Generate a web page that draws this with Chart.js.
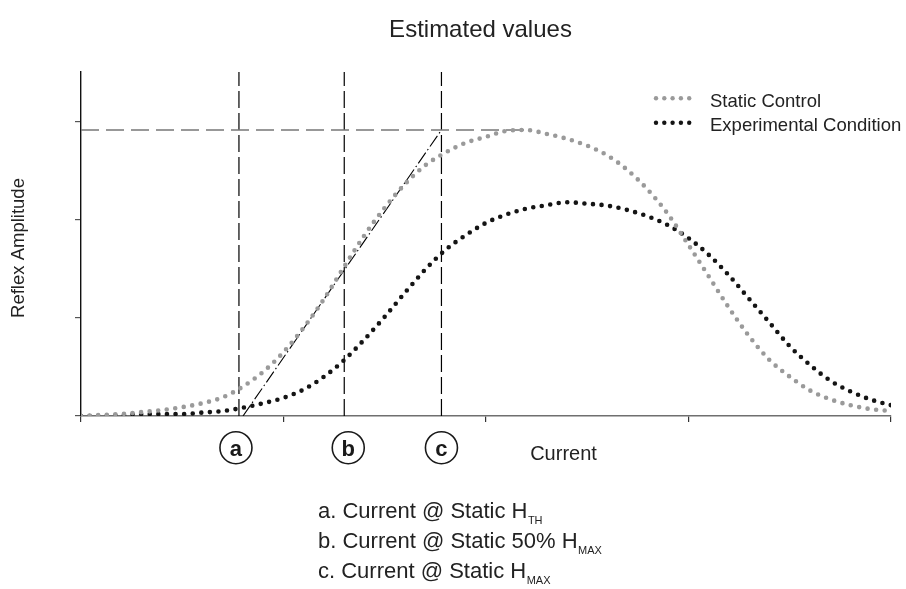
<!DOCTYPE html>
<html>
<head>
<meta charset="utf-8">
<script src="https://cdn.jsdelivr.net/npm/chart.js@4/dist/chart.umd.min.js"></script>
<style>
  html, body { margin: 0; padding: 0; background: #fff; }
  #wrap { width: 906px; height: 589px; position: relative; }
  canvas { display: block; }
</style>
</head>
<body>
<div id="wrap"><canvas id="chart" width="906" height="589"></canvas></div>
<script>
// Stimulation current (arbitrary units) at which the curves are sampled
const currentSteps = [0.0, 0.1, 0.2, 0.3, 0.4, 0.5, 0.6, 0.7, 0.8, 0.9,
                      1.0, 1.1, 1.2, 1.3, 1.4, 1.5, 1.6, 1.7, 1.8, 1.9,
                      2.0, 2.1, 2.2, 2.3, 2.4, 2.5, 2.6, 2.7, 2.8, 2.9,
                      3.0, 3.1, 3.2, 3.3, 3.4, 3.5, 3.6, 3.7, 3.8, 3.9, 4.0];

// Reflex amplitude, static control
const staticControl = [0.00, 0.01, 0.02, 0.04, 0.06, 0.09, 0.13, 0.19, 0.30, 0.45,
                       0.65, 0.90, 1.19, 1.52, 1.84, 2.12, 2.36, 2.55, 2.68, 2.78,
                       2.84, 2.90, 2.91, 2.87, 2.82, 2.75, 2.65, 2.50, 2.30, 2.05,
                       1.74, 1.42, 1.10, 0.81, 0.57, 0.40, 0.26, 0.17, 0.11, 0.07, 0.05];

// Reflex amplitude, experimental condition
const experimental = [0.00, 0.00, 0.01, 0.02, 0.02, 0.02, 0.035, 0.05, 0.085, 0.13,
                      0.185, 0.27, 0.40, 0.57, 0.78, 1.01, 1.255, 1.49, 1.69, 1.84,
                      1.965, 2.05, 2.11, 2.145, 2.175, 2.16, 2.14, 2.095, 2.03, 1.94,
                      1.81, 1.64, 1.43, 1.19, 0.95, 0.71, 0.52, 0.36, 0.25, 0.167, 0.11];

const seriesLabels = ['Static Control', 'Experimental Condition'];

// Reference currents: a = threshold, b = 50% Hmax, c = Hmax
const markerCurrents = [0.78, 1.30, 1.78];
const markerLetters = ['a', 'b', 'c'];

// Rising-slope guide line (current, amplitude)
const slopeCurrents = [0.80, 1.78];
const slopeValues = [0.00, 2.91];

const xTicks = [0, 1, 2, 3, 4];
const yTicks = [0, 1, 2, 3];
const yTop = 3.5;

const footnotes = [
  ['a. Current @ Static H', 'TH'],
  ['b. Current @ Static 50% H', 'MAX'],
  ['c. Current @ Static H', 'MAX']
];

const GRAY = '#9a9a9a';
const BLACK = '#141414';
const FONT = '"Liberation Sans", Arial, Helvetica, sans-serif';

const toPoints = (xs, ys) => xs.map((x, i) => ({ x: x, y: ys[i] }));

// Peak of the static curve, used for the Hmax guide
const hMax = Math.max(...staticControl);
const hMaxCurrent = currentSteps[staticControl.indexOf(hMax)];

const dotted = (color) => ({
  borderColor: color,
  backgroundColor: color,
  borderWidth: 4.6,
  borderDash: [0, 8.6],
  borderCapStyle: 'round',
  pointRadius: 0,
  fill: false,
  cubicInterpolationMode: 'monotone'
});

const guide = (pts, color, dash, width) => ({
  data: pts,
  borderColor: color,
  borderWidth: width,
  borderDash: dash,
  pointRadius: 0,
  fill: false,
  tension: 0
});

const datasets = [
  Object.assign({ label: seriesLabels[0], data: toPoints(currentSteps, staticControl) }, dotted(GRAY)),
  Object.assign({ label: seriesLabels[1], data: toPoints(currentSteps, experimental) }, dotted(BLACK)),
  guide([{ x: 0, y: hMax }, { x: hMaxCurrent, y: hMax }], '#777', [18, 7], 1.6),
  guide(toPoints(slopeCurrents, slopeValues), '#000', [13, 3, 1.5, 3], 1.1)
];
markerCurrents.forEach(m => {
  datasets.push(guide([{ x: m, y: 0 }, { x: m, y: yTop }], '#000', [17, 5], 1.2));
});

function drawSub(ctx, text, sub, x, y, size) {
  ctx.font = size + 'px ' + FONT;
  ctx.textAlign = 'left';
  ctx.textBaseline = 'alphabetic';
  ctx.fillText(text, x, y);
  const w = ctx.measureText(text).width;
  ctx.font = Math.round(size * 0.52) + 'px ' + FONT;
  ctx.fillText(sub, x + w + 0.5, y + 6);
}

const annotations = {
  id: 'annotations',
  afterDraw(chart) {
    const ctx = chart.ctx;
    const xs = chart.scales.x;
    ctx.save();
    ctx.fillStyle = '#222';

    // Title
    ctx.font = '24px ' + FONT;
    ctx.textAlign = 'center';
    ctx.textBaseline = 'alphabetic';
    ctx.fillText('Estimated values', 480.5, 37);

    // Y-axis title
    ctx.save();
    ctx.translate(24, 248);
    ctx.rotate(-Math.PI / 2);
    ctx.font = '18.5px ' + FONT;
    ctx.textAlign = 'center';
    ctx.fillText('Reflex Amplitude', 0, 0);
    ctx.restore();

    // X-axis title
    ctx.font = '20px ' + FONT;
    ctx.textAlign = 'center';
    ctx.fillText('Current', 563.5, 460);

    // Circled markers under the reference lines
    const nudge = [-3, 4, 0];
    markerCurrents.forEach((m, i) => {
      const cx = xs.getPixelForValue(m) + nudge[i];
      const cy = 447.7;
      ctx.beginPath();
      ctx.arc(cx, cy, 16, 0, Math.PI * 2);
      ctx.lineWidth = 1.6;
      ctx.strokeStyle = '#1a1a1a';
      ctx.stroke();
      ctx.font = 'bold 22px ' + FONT;
      ctx.textAlign = 'center';
      ctx.fillStyle = '#1a1a1a';
      ctx.fillText(markerLetters[i], cx, 455.8);
    });

    // Footnotes
    ctx.fillStyle = '#222';
    footnotes.forEach((f, i) => {
      drawSub(ctx, f[0], f[1], 318, 517.7 + i * 30, 22);
    });

    // Legend
    const rows = [98.3, 122.7];
    const colors = [GRAY, BLACK];
    chart.data.datasets.slice(0, 2).forEach((ds, i) => {
      ctx.fillStyle = colors[i];
      for (let k = 0; k < 5; k++) {
        ctx.beginPath();
        ctx.arc(656 + k * 8.3, rows[i], 2.2, 0, Math.PI * 2);
        ctx.fill();
      }
      ctx.fillStyle = '#222';
      ctx.font = '18.5px ' + FONT;
      ctx.textAlign = 'left';
      ctx.fillText(ds.label, 710, rows[i] + 8.6);
    });
    ctx.restore();
  }
};

new Chart(document.getElementById('chart'), {
  type: 'line',
  data: { datasets: datasets },
  options: {
    responsive: false,
    animation: false,
    events: [],
    layout: { padding: { left: 75, right: 15, top: 72, bottom: 167 } },
    plugins: {
      legend: { display: false },
      tooltip: { enabled: false },
      title: { display: false }
    },
    scales: {
      x: {
        type: 'linear',
        min: 0,
        max: 4,
        afterBuildTicks: s => { s.ticks = xTicks.map(v => ({ value: v })); },
        ticks: { display: false },
        grid: { drawOnChartArea: false, drawTicks: true, tickLength: 6, color: '#333', lineWidth: 1.2 },
        border: { display: true, color: '#6f6f6f', width: 1.6 }
      },
      y: {
        type: 'linear',
        min: 0,
        max: yTop,
        afterBuildTicks: s => { s.ticks = yTicks.map(v => ({ value: v })); },
        ticks: { display: false },
        grid: { drawOnChartArea: false, drawTicks: true, tickLength: 6, color: '#555', lineWidth: 1.2 },
        border: { display: true, color: '#111', width: 1.4 }
      }
    }
  },
  plugins: [annotations]
});
</script>
</body>
</html>
